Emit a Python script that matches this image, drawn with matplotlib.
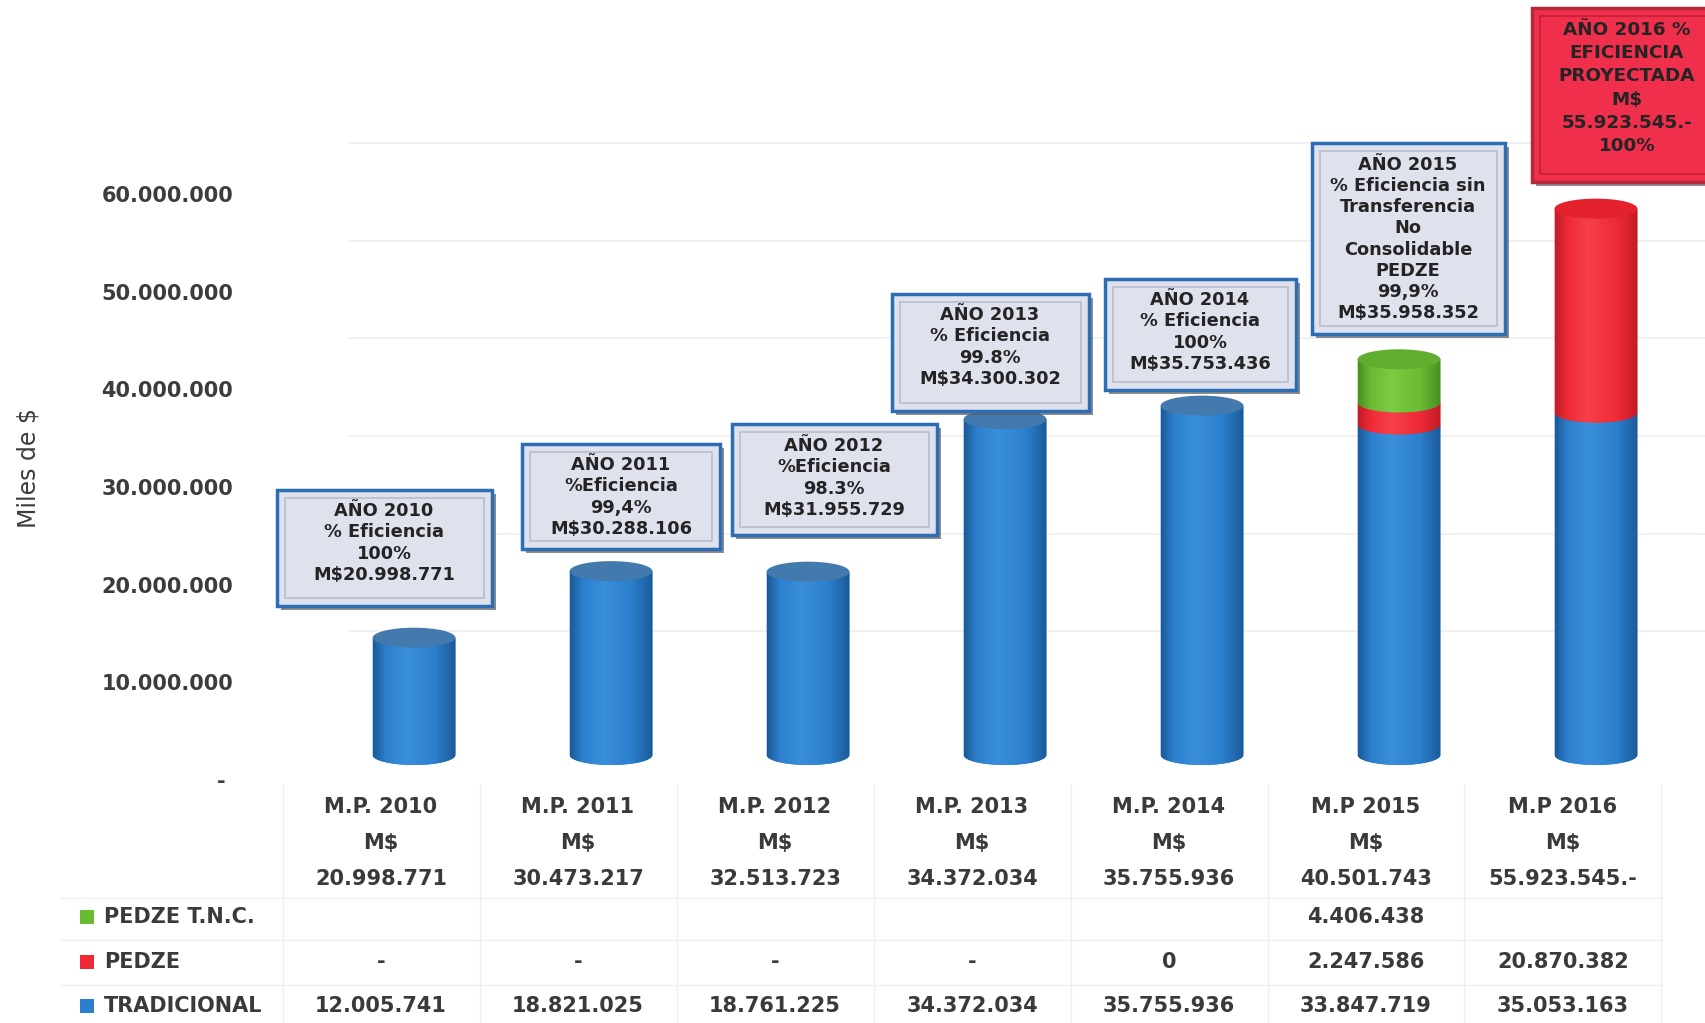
import numpy as np
import matplotlib
matplotlib.use('Agg')
import matplotlib.pyplot as plt
from matplotlib.patches import Rectangle, Ellipse, PathPatch
from matplotlib.path import Path
from matplotlib.colors import LinearSegmentedColormap
from matplotlib.transforms import blended_transform_factory

# ---------------- data ----------------
cat_names = ['M.P. 2010', 'M.P. 2011', 'M.P. 2012', 'M.P. 2013', 'M.P. 2014', 'M.P 2015', 'M.P 2016']
cat_totals = ['20.998.771', '30.473.217', '32.513.723', '34.372.034', '35.755.936', '40.501.743', '55.923.545.-']

tradicional = [12005741, 18821025, 18761225, 34372034, 35755936, 33847719, 35053163]
pedze = [0, 0, 0, 0, 0, 2247586, 20870382]
pedze_tnc = [0, 0, 0, 0, 0, 4406438, 0]

series_names = ['PEDZE T.N.C.', 'PEDZE', 'TRADICIONAL']
row_tnc = ['', '', '', '', '', '4.406.438', '']
row_pedze = ['-', '-', '-', '-', '0', '2.247.586', '20.870.382']
row_trad = ['12.005.741', '18.821.025', '18.761.225', '34.372.034', '35.755.936', '33.847.719', '35.053.163']

yticks = [0, 10000000, 20000000, 30000000, 40000000, 50000000, 60000000]
ytick_labels = ['- ', '10.000.000', '20.000.000', '30.000.000', '40.000.000', '50.000.000', '60.000.000']

box_texts = [
    'AÑO 2010\n% Eficiencia\n100%\nM$20.998.771',
    'AÑO 2011\n%Eficiencia\n99,4%\nM$30.288.106',
    'AÑO 2012\n%Eficiencia\n98.3%\nM$31.955.729',
    'AÑO 2013\n% Eficiencia\n99.8%\nM$34.300.302',
    'AÑO 2014\n% Eficiencia\n100%\nM$35.753.436',
    'AÑO 2015\n% Eficiencia sin\nTransferencia\nNo\nConsolidable\nPEDZE\n99,9%\nM$35.958.352',
    'AÑO 2016 %\nEFICIENCIA\nPROYECTADA\nM$\n55.923.545.-\n100%',
]

# ---------------- layout helpers ----------------
W, H = 1706, 1023
PX_PER_UNIT = 9.77e-6          # pixels per peso (vertical)
FONT = 'DejaVu Sans'
plt.rcParams['font.family'] = [FONT]

fig = plt.figure(figsize=(W / 100, H / 100), dpi=100)
fig.patch.set_facecolor('white')


def fx(p):
    return p / W


def fy(p):
    return 1 - p / H


XLIM = (-0.716, 6.726)

# back wall gridlines
ax_back = fig.add_axes([fx(348), fy(729), 1 - fx(348), fy(0) - fy(729)])
ax_back.set_ylim(0, 729 / PX_PER_UNIT)
ax_back.set_xlim(0, 1)
for v in yticks[1:]:
    ax_back.axhline(v, color='#eceff5', lw=1.2)
ax_back.axis('off')

# front axes carrying the value ticks
ax = fig.add_axes([fx(240), fy(780), 1 - fx(240), fy(0) - fy(780)])
ax.set_facecolor('none')
ax.set_ylim(0, 780 / PX_PER_UNIT)
ax.set_xlim(*XLIM)
ax.set_yticks(yticks)
ax.set_yticklabels(ytick_labels, fontsize=15, fontweight='bold', color='#3c3c3c')
ax.tick_params(axis='y', length=0, pad=5)
ax.set_xticks([])
for s in ax.spines.values():
    s.set_visible(False)

# bar axes (shifted for the 3-D depth)
YNEG = 3000000
floor_px = 755
ax_bar = fig.add_axes([fx(273), fy(floor_px + YNEG * PX_PER_UNIT), 1466 / W,
                       fy(0) - fy(floor_px + YNEG * PX_PER_UNIT)])
ax_bar.set_facecolor('none')
ax_bar.axis('off')

x = np.arange(len(cat_names))
bw = 0.42
eh = 20 / PX_PER_UNIT   # ellipse height in data units

styles = {
    'blue': dict(body='#2b7fcc', edge='#1b5a98', hi='#3a8fdb', top='#437aad'),
    'red': dict(body='#ef2a36', edge='#c01c27', hi='#f5404a', top='#e3222d'),
    'green': dict(body='#69bb33', edge='#4a8f22', hi='#7ccb44', top='#5fae2f'),
}

series = [(tradicional, 'blue'), (pedze, 'red'), (pedze_tnc, 'green')]
bottom = np.zeros(len(x))
tops = np.zeros(len(x))
top_color = ['blue'] * len(x)
for level, (vals, cname) in enumerate(series):
    st = styles[cname]
    vals = np.array(vals, dtype=float)
    rects = ax_bar.bar(x, vals, width=bw, bottom=bottom, color=st['body'],
                       zorder=2 + level * 3, linewidth=0)
    cmap = LinearSegmentedColormap.from_list(
        cname, [(0, st['edge']), (0.15, st['body']), (0.4, st['hi']),
                (0.75, st['body']), (1, st['edge'])])
    for i, r in enumerate(rects):
        h = r.get_height()
        if h <= 0:
            r.set_visible(False)
            continue
        x0, y0, w = r.get_x(), r.get_y(), r.get_width()
        t = np.linspace(0, -np.pi, 40)
        arc = np.column_stack([x0 + w / 2 + w / 2 * np.cos(t), y0 + eh / 2 * np.sin(t)])
        verts = np.vstack([[[x0 + w, y0], [x0 + w, y0 + h], [x0, y0 + h], [x0, y0]],
                           arc[::-1][1:], [[x0 + w, y0]]])
        codes = [Path.MOVETO] + [Path.LINETO] * (len(verts) - 2) + [Path.CLOSEPOLY]
        pp = PathPatch(Path(verts, codes), facecolor=st['body'], edgecolor='none',
                       zorder=2 + level * 3 + 1)
        ax_bar.add_patch(pp)
        im = ax_bar.imshow(np.linspace(0, 1, 200).reshape(1, -1), cmap=cmap,
                           extent=(x0, x0 + w, y0 - eh, y0 + h), aspect='auto',
                           zorder=2 + level * 3 + 1.5, interpolation='bilinear')
        im.set_clip_path(pp)
        tops[i] = y0 + h
        top_color[i] = cname
    bottom = bottom + vals

for i in range(len(x)):
    ax_bar.add_patch(Ellipse((x[i], tops[i]), bw, eh, facecolor=styles[top_color[i]]['top'],
                             edgecolor='none', zorder=20))

ax_bar.set_xlim(*XLIM)
ax_bar.set_ylim(-YNEG, floor_px / PX_PER_UNIT)

# y label
fig.text(fx(29), fy(468), 'Miles de $', rotation=90, ha='center', va='center',
         fontsize=17, color='#3c3c3c')

# ---------------- data table ----------------
tr = blended_transform_factory(ax.transData, fig.transFigure)
tkw = dict(ha='center', va='center', fontsize=15, fontweight='bold', color='#3a3a3a', transform=tr)
for i in range(len(x)):
    ax.text(x[i], fy(807), cat_names[i], **tkw)
    ax.text(x[i], fy(843), 'M$', **tkw)
    ax.text(x[i], fy(879), cat_totals[i], **tkw)
    ax.text(x[i], fy(917), row_tnc[i], **tkw)
    ax.text(x[i], fy(962), row_pedze[i], **tkw)
    ax.text(x[i], fy(1006), row_trad[i], **tkw)

# faint table grid
for i in range(len(x) + 1):
    ax.plot([x[0] - 0.5 + i, x[0] - 0.5 + i], [fy(785), fy(1023)], color='#efefef', lw=1,
            transform=tr, clip_on=False)
for yy in [898, 940, 985]:
    fig.add_artist(plt.Line2D([fx(60), fx(1662)], [fy(yy), fy(yy)], color='#f0f0f0', lw=1))

leg_colors = [styles['green']['body'], styles['red']['body'], styles['blue']['body']]
for yy, name, c in zip([917, 962, 1006], series_names, leg_colors):
    fig.add_artist(Rectangle((fx(80), fy(yy + 7)), 14 / W, 14 / H, facecolor=c,
                             edgecolor='none', transform=fig.transFigure))
    fig.text(fx(104), fy(yy), name, ha='left', va='center', fontsize=15,
             fontweight='bold', color='#3a3a3a')

# ---------------- annotation boxes ----------------
box_rects = [  # x0, x1, y0, y1 in pixels
    (277, 492, 490, 606),
    (522, 720, 444, 549),
    (732, 937, 424, 535),
    (892, 1089, 294, 411),
    (1105, 1296, 279, 390),
    (1312, 1505, 143, 334),
    (1532, 1722, 8, 182),
]
text_centers = [(384, 543), (621, 497), (834, 478), (990, 347), (1200, 332), (1408, 239), (1627, 88)]

for k, ((x0, x1, y0, y1), (cx, cy), txt) in enumerate(zip(box_rects, text_centers, box_texts)):
    red = (k == len(box_texts) - 1)
    face = '#ef2f4b' if red else '#dfe1ed'
    edge = '#b4283a' if red else '#2c6db3'
    bevel = '#c22035' if red else '#b9bccb'
    # shadow
    fig.add_artist(Rectangle((fx(x0 + 4), fy(y1 + 4)), (x1 - x0) / W, (y1 - y0) / H,
                             facecolor='#5a5a5a', edgecolor='none', alpha=0.7,
                             transform=fig.transFigure, zorder=30))
    fig.add_artist(Rectangle((fx(x0), fy(y1)), (x1 - x0) / W, (y1 - y0) / H,
                             facecolor=face, edgecolor=edge, lw=2.5,
                             transform=fig.transFigure, zorder=31))
    fig.add_artist(Rectangle((fx(x0 + 8), fy(y1 - 8)), (x1 - x0 - 16) / W, (y1 - y0 - 16) / H,
                             facecolor='none', edgecolor=bevel, lw=1.2,
                             transform=fig.transFigure, zorder=32))
    fig.text(fx(cx), fy(cy), txt, ha='center', va='center',
             fontsize=13.2 if red else 12.8, fontweight='bold',
             linespacing=1.36 if red else 1.23, color='#242424', zorder=33)

fig.savefig('out.png', dpi=100, facecolor='white')
